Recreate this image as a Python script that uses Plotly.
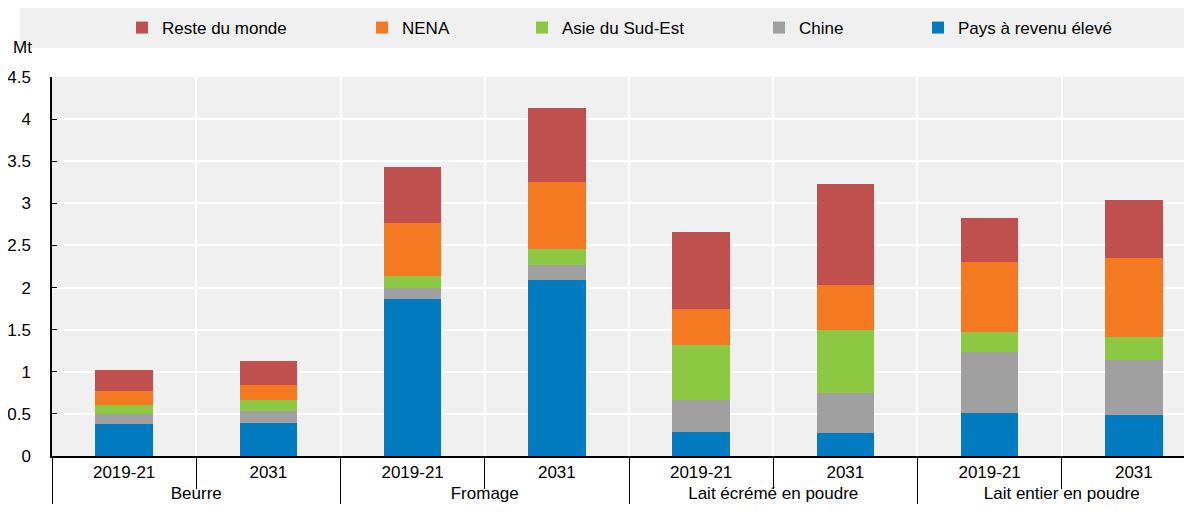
import plotly.graph_objects as go

groups = ["Beurre", "Beurre", "Fromage", "Fromage",
          "Lait écrémé en poudre", "Lait écrémé en poudre",
          "Lait entier en poudre", "Lait entier en poudre"]
periods = ["2019-21", "2031"] * 4

pays_revenu_eleve = [0.385, 0.39, 1.866, 2.095, 0.29, 0.278, 0.512, 0.484]
chine = [0.115, 0.15, 0.134, 0.17, 0.371, 0.466, 0.718, 0.656]
asie_sud_est = [0.107, 0.12, 0.139, 0.19, 0.66, 0.755, 0.237, 0.276]
nena = [0.169, 0.187, 0.628, 0.793, 0.427, 0.533, 0.833, 0.936]
reste_du_monde = [0.249, 0.281, 0.667, 0.889, 0.908, 1.193, 0.53, 0.687]

series = [
    ("Pays à revenu élevé", pays_revenu_eleve, "#037BC1"),
    ("Chine", chine, "#A0A0A0"),
    ("Asie du Sud-Est", asie_sud_est, "#8CC841"),
    ("NENA", nena, "#F47920"),
    ("Reste du monde", reste_du_monde, "#C0504D"),
]

FONT = "Liberation Sans Narrow, Arial Narrow, Liberation Sans, Arial"

# page body has an 8px margin: figure drawn at (8, 8) in the window
OFF = 8
W, H = 1192 - OFF, 515 - OFF
ml, mr, mt, mb = 52 - OFF, 0, 77 - OFF, 515 - 456
pw = W - ml - mr
ph = H - mt - mb

def px_x(p):  # screen pixel -> paper x
    return (p - OFF - ml) / pw

def px_y(p):  # screen pixel -> paper y
    return (H - mb - (p - OFF)) / ph

# legend symbol left edges (screen px) per series, in series order
legend_left = [939, 780, 543, 383, 143]
legend_ids = ["legend5", "legend4", "legend3", "legend2", "legend"]

fig = go.Figure()
for (name, vals, color), lid in zip(series, legend_ids):
    fig.add_trace(go.Bar(
        x=[groups, periods], y=vals, name=name, legend=lid,
        marker=dict(color=color, line=dict(width=0)),
    ))

legend_layout = {}
for lid, left in zip(legend_ids, legend_left):
    legend_layout[lid] = dict(
        orientation="h",
        x=px_x(left - 21), xanchor="left", y=px_y(28), yanchor="middle",
        bgcolor="rgba(0,0,0,0)", font=dict(family=FONT, size=17),
        itemclick=False, itemdoubleclick=False,
    )

fig.update_layout(
    width=W, height=H,
    margin=dict(l=ml, r=mr, t=mt, b=mb, pad=0, autoexpand=False),
    barmode="stack", bargap=0.6,
    paper_bgcolor="white", plot_bgcolor="#F0F0F0",
    font=dict(family=FONT, size=17, color="black"),
    showlegend=True,
    xaxis=dict(
        type="multicategory", tickson="boundaries", automargin=False,
        range=[-0.5, 7.403],
        showgrid=True, gridcolor="white", gridwidth=1.5,
        ticks="outside", ticklen=31, tickcolor="black", tickwidth=1,
        showline=True, linecolor="black", linewidth=1.5,
        showdividers=True, dividercolor="black", dividerwidth=1,
        tickfont=dict(family=FONT, size=17),
    ),
    yaxis=dict(
        range=[0, 4.5], dtick=0.5, tick0=0, automargin=False,
        showgrid=True, gridcolor="white", gridwidth=2,
        ticks="inside", ticklen=5, tickcolor="black",
        showline=True, linecolor="black", linewidth=1.5,
        zeroline=False, tickfont=dict(family=FONT, size=17),
        ticklabelstandoff=16,
    ),
    shapes=[dict(
        type="rect", xref="paper", yref="paper", layer="below",
        x0=px_x(20), x1=1.0, y0=px_y(48), y1=px_y(8),
        fillcolor="#F0F0F0", line=dict(width=0),
    )],
    annotations=[dict(
        text="Mt", xref="paper", yref="paper", showarrow=False,
        x=px_x(22), y=px_y(48), xanchor="center", yanchor="middle",
        font=dict(family=FONT, size=17),
    )],
    **legend_layout,
)

fig.write_html("out.html")
